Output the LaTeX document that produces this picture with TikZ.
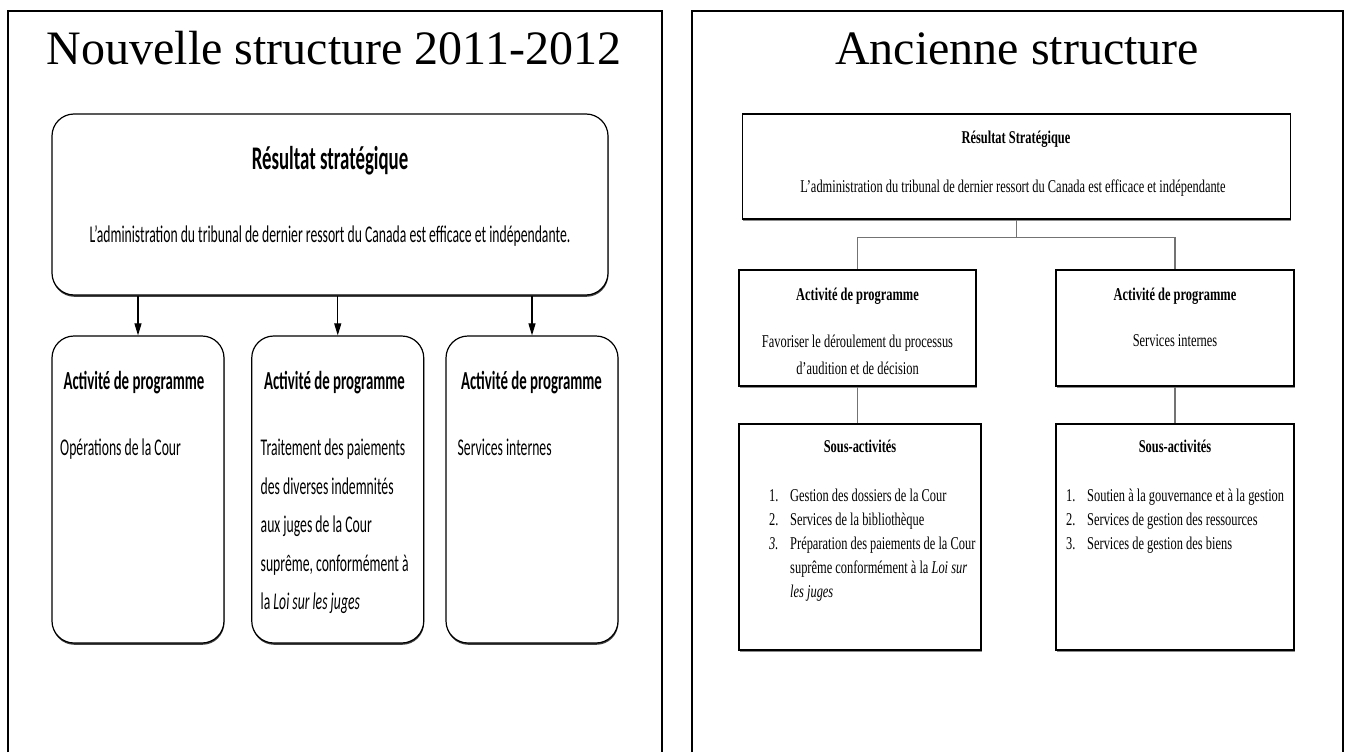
\documentclass[tikz,border=0pt]{standalone}
\usepackage{fontspec}
\setmainfont{Liberation Serif}
\newfontfamily\calfont[FakeStretch=0.57]{Carlito}
\newfontfamily\nrwfont[FakeStretch=0.69]{Liberation Serif}
\usetikzlibrary{arrows.meta,shadows}
\newcommand{\numitem}[1]{\makebox[21pt][l]{#1}}
\tikzset{panel/.style={line width=2pt}, title/.style={anchor=base,font=\fontsize{48}{52}\selectfont}}
\tikzset{newbox/.style={draw,line width=1.2pt,fill=white,inner sep=0pt,rounded corners=22pt,
    drop shadow={shadow xshift=0.4pt,shadow yshift=-1.8pt,opacity=1,fill=black!75}},
  oldbox/.style={draw,line width=1.1pt,fill=white,inner sep=0pt,
    drop shadow={shadow xshift=1pt,shadow yshift=-1.5pt,opacity=1,fill=black!45}},
  newlink/.style={-{Triangle[length=12pt,width=7pt]},line width=1.1pt},
  oldlink/.style={draw=black!55,line width=1.1pt}}

\begin{document}
\begin{tikzpicture}[x=1pt,y=-1pt]
  \useasboundingbox (0,0) rectangle (1346,752);
  \draw[panel] (8,752) -- (8,11) -- (662,11) -- (662,752);
  \draw[panel] (692,752) -- (692,11) -- (1343,11) -- (1343,752);
  \node[title] (ttlnew) at (334,65) {Nouvelle structure 2011-2012};
  \node[title] (ttlold) at (1017,65) {Ancienne structure};

  % nouvelle structure
  \node[newbox,minimum width=556pt,minimum height=181pt] (res) at (330,204.5) {};
  \node[anchor=base,font=\calfont\fontsize{33}{36}\selectfont\bfseries] (restitle) at (330,169) {Résultat stratégique};
  \node[anchor=base,font=\calfont\fontsize{24}{28}\selectfont] (restext) at (330,242)
    {L’administration du tribunal de dernier ressort du Canada est efficace et indépendante.};
  \node[newbox,minimum width=172pt,minimum height=307pt] (opc) at (138,489.5) {};
  \node[newbox,minimum width=172pt,minimum height=307pt] (pay) at (337.75,489.5) {};
  \node[newbox,minimum width=172pt,minimum height=307pt] (sin) at (532,489.5) {};
  \draw[newlink] (res.south -| opc.north) -- (opc.north);
  \draw[newlink] (res.south -| pay.north) -- (pay.north);
  \draw[newlink] (res.south -| sin.north) -- (sin.north);
  \begin{scope}[every node/.style={anchor=base west,font=\calfont\fontsize{26}{30}\selectfont\bfseries}]
   \node (opchead) at (60,389) {Activité de programme};
   \node (payhead) at (260.5,389) {Activité de programme};
   \node (sinhead) at (457.5,389) {Activité de programme};
  \end{scope}
  \begin{scope}[every node/.style={anchor=north west,align=left,inner sep=0pt,font=\calfont\fontsize{24}{38.5}\selectfont}]
   \node (opctext) at (60,439) {Opérations de la Cour};
   \node (paytext) at (260.5,439) {Traitement des paiements\\des diverses indemnités\\aux juges de la Cour\\suprême, conformément à\\la \textit{Loi sur les juges}};
   \node (sintext) at (457.5,439) {Services internes};
  \end{scope}

  % ancienne structure
  \node[oldbox,minimum width=548pt,minimum height=105pt] (rso) at (1016.25,166.5) {};
  \node[anchor=base,font=\nrwfont\fontsize{18}{22}\selectfont\bfseries] (rsotitle) at (1016,143) {Résultat Stratégique};
  \node[anchor=base,font=\nrwfont\fontsize{18}{22}\selectfont] (rsotext) at (1013,192)
    {L’administration du tribunal de dernier ressort du Canada est efficace et indépendante};
  \node[oldbox,minimum width=237pt,minimum height=116pt] (apl) at (857.5,328) {};
  \node[oldbox,minimum width=238pt,minimum height=116pt] (apr) at (1175,328) {};
  \node[oldbox,minimum width=242pt,minimum height=226pt] (sal) at (860,537) {};
  \node[oldbox,minimum width=238pt,minimum height=226pt] (sar) at (1175,537) {};
  \draw[oldlink] (rso.south) -- ++(0,18) -| (apl.north);
  \draw[oldlink] (rso.south) -- ++(0,18) -| (apr.north);
  \draw[oldlink] (apl.south) -- (apl.south |- sal.north);
  \draw[oldlink] (apr.south) -- (apr.south |- sar.north);
  \begin{scope}[every node/.style={anchor=base,font=\nrwfont\fontsize{18}{22}\selectfont\bfseries}]
   \node (aplhead) at (857.5,300) {Activité de programme};
   \node (aprhead) at (1175,300) {Activité de programme};
   \node (salhead) at (860,452) {Sous-activités};
   \node (sarhead) at (1175,452) {Sous-activités};
  \end{scope}
  \node[anchor=north,align=center,inner sep=0pt,font=\nrwfont\fontsize{18}{27.3}\selectfont] (apltext) at (857.5,334.5)
    {Favoriser le déroulement du processus\\d’audition et de décision};
  \node[anchor=base,font=\nrwfont\fontsize{18}{22}\selectfont] (aprtext) at (1175,346.7) {Services internes};
  \node[anchor=north west,inner sep=0pt,font=\nrwfont\fontsize{18}{24}\selectfont] (sallist) at (769,484)
    {\begin{tabular}{@{}l@{}l@{}}
      \numitem{1.} & Gestion des dossiers de la Cour\\
      \numitem{2.} & Services de la bibliothèque\\
      \numitem{\textit{3.}} & Préparation des paiements de la Cour\\
       & suprême conformément à la \textit{Loi sur}\\
       & \textit{les juges}
     \end{tabular}};
  \node[anchor=north west,inner sep=0pt,font=\nrwfont\fontsize{18}{24}\selectfont] (sarlist) at (1066,484)
    {\begin{tabular}{@{}l@{}l@{}}
      \numitem{1.} & Soutien à la gouvernance et à la gestion\\
      \numitem{2.} & Services de gestion des ressources\\
      \numitem{3.} & Services de gestion des biens
     \end{tabular}};
\end{tikzpicture}
\end{document}
